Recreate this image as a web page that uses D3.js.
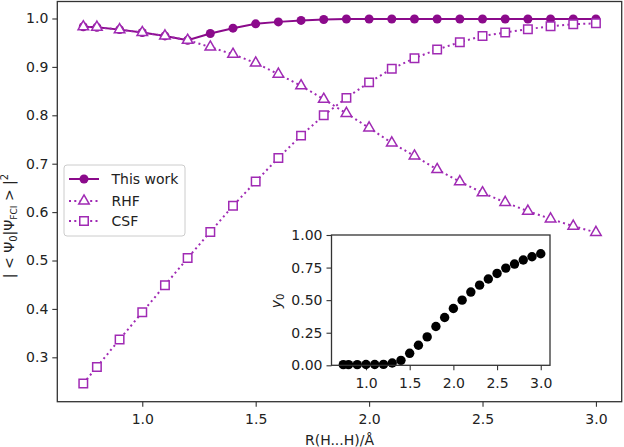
<!DOCTYPE html>
<html><head><meta charset="utf-8">
<script src="https://cdn.jsdelivr.net/npm/d3@7"></script>
<style>
body{margin:0;background:#fff;}
text{font-family:"DejaVu Sans",sans-serif;}
</style></head>
<body>
<svg id="c" width="624" height="447"></svg>
<script>
const xs = [0.74,0.8,0.9,1.0,1.1,1.2,1.3,1.4,1.5,1.6,1.7,1.8,1.9,2.0,2.1,2.2,2.3,2.4,2.5,2.6,2.7,2.8,2.9,3.0];
const thisWork = [0.983,0.982,0.977,0.971,0.964,0.955,0.969,0.980,0.989,0.993,0.996,0.998,0.999,0.999,0.999,0.999,0.999,0.999,0.999,0.999,0.999,0.999,0.999,0.999];
const rhf = [0.983,0.982,0.977,0.971,0.964,0.955,0.941,0.926,0.908,0.885,0.861,0.833,0.804,0.774,0.743,0.716,0.688,0.663,0.640,0.620,0.602,0.586,0.571,0.558];
const csf = [0.246,0.280,0.337,0.393,0.449,0.505,0.559,0.613,0.663,0.712,0.758,0.800,0.836,0.868,0.896,0.918,0.936,0.951,0.964,0.971,0.978,0.984,0.988,0.990];
const y0 = [0.005,0.005,0.005,0.006,0.006,0.007,0.018,0.038,0.092,0.154,0.218,0.298,0.367,0.436,0.500,0.562,0.615,0.662,0.705,0.746,0.777,0.808,0.833,0.856];
const xTicks = [1.0,1.5,2.0,2.5,3.0];
const yTicks = [0.3,0.4,0.5,0.6,0.7,0.8,0.9,1.0];
const insetYTicks = [0.00,0.25,0.50,0.75,1.00];
const legendLabels = ["This work","RHF","CSF"];

const C1 = "#8b0a8b", C2 = "#a02ab4", AX = "#333";
const svg = d3.select("#c");

const x = d3.scaleLinear().domain([0.6254,3.1136]).range([57.3,621.7]);
const y = d3.scaleLinear().domain([0.2083,1.0351]).range([401.7,1.5]);

// axes
const gx = svg.append("g").attr("transform","translate(0,401.7)")
  .call(d3.axisBottom(x).tickValues(xTicks).tickFormat(d3.format(".1f")).tickSize(5).tickPadding(4));
const gy = svg.append("g").attr("transform","translate(57.3,0)")
  .call(d3.axisLeft(y).tickValues(yTicks).tickFormat(d3.format(".1f")).tickSize(5).tickPadding(4));
[gx,gy].forEach(g=>{
  g.select(".domain").remove();
  g.selectAll("line").attr("stroke",AX).attr("stroke-width",1.1);
  g.selectAll("text").attr("font-size",14).attr("fill","#222").attr("font-family","DejaVu Sans");
});
gx.selectAll("text").attr("dy","0.95em");
svg.append("rect").attr("x",57.3).attr("y",1.5).attr("width",621.7-57.3).attr("height",401.7-1.5)
  .attr("fill","none").attr("stroke",AX).attr("stroke-width",1.3);

// x label
svg.append("text").attr("x",339.5).attr("y",445).attr("text-anchor","middle")
  .attr("font-size",14).attr("fill","#222").text("R(H...H)/Å");
// y label
const yl = svg.append("text").attr("transform","translate(14,226) rotate(-90)")
  .attr("text-anchor","middle").attr("font-size",14).attr("fill","#222");
yl.append("tspan").text("| < Ψ");
yl.append("tspan").attr("font-size",10).attr("dy",3).text("0");
yl.append("tspan").attr("dy",-3).text("|Ψ");
yl.append("tspan").attr("font-size",9).attr("dy",3).text("FCI");
yl.append("tspan").attr("dy",-3).text(" > |");
yl.append("tspan").attr("font-size",10).attr("dy",-6).text("2");

const line = d3.line().x(d=>x(d[0])).y(d=>y(d[1]));
const tri = d3.symbol().type(d3.symbolTriangle).size(48);
const sq = d3.symbol().type(d3.symbolSquare).size(72);

// This work
const tw = xs.map((v,i)=>[v,thisWork[i]]);
svg.append("path").attr("d",line(tw)).attr("fill","none").attr("stroke",C1).attr("stroke-width",2);
svg.selectAll(".tw").data(tw).join("circle").attr("cx",d=>x(d[0])).attr("cy",d=>y(d[1])).attr("r",4.5).attr("fill",C1);

// RHF
const rh = xs.map((v,i)=>[v,rhf[i]]);
svg.append("path").attr("d",line(rh)).attr("fill","none").attr("stroke",C2).attr("stroke-width",2).attr("stroke-dasharray","2,3.3");
svg.selectAll(".rh").data(rh).join("path").attr("d",tri).attr("transform",d=>`translate(${x(d[0])},${y(d[1])})`)
  .attr("fill","#fff").attr("stroke",C2).attr("stroke-width",1.5);

// CSF
const cs = xs.map((v,i)=>[v,csf[i]]);
svg.append("path").attr("d",line(cs)).attr("fill","none").attr("stroke",C2).attr("stroke-width",2).attr("stroke-dasharray","2,3.3");
svg.selectAll(".cs").data(cs).join("path").attr("d",sq).attr("transform",d=>`translate(${x(d[0])},${y(d[1])})`)
  .attr("fill","#fff").attr("stroke",C2).attr("stroke-width",1.5);

// legend
svg.append("rect").attr("x",64).attr("y",165).attr("width",121).attr("height",71).attr("rx",3)
  .attr("fill","#fff").attr("fill-opacity",0.8).attr("stroke","#ccc").attr("stroke-width",1);
const ly = [179,201,221];
legendLabels.forEach((lab,i)=>{
  const g = svg.append("g");
  if(i===0){
    g.append("line").attr("x1",69).attr("x2",99).attr("y1",ly[i]).attr("y2",ly[i]).attr("stroke",C1).attr("stroke-width",2);
    g.append("circle").attr("cx",84).attr("cy",ly[i]).attr("r",4.5).attr("fill",C1);
  } else {
    g.append("line").attr("x1",69).attr("x2",99).attr("y1",ly[i]).attr("y2",ly[i]).attr("stroke",C2).attr("stroke-width",2).attr("stroke-dasharray","2,3.3");
    g.append("path").attr("d",i===1?tri:sq).attr("transform",`translate(84,${ly[i]})`).attr("fill","#fff").attr("stroke",C2).attr("stroke-width",1.5);
  }
  g.append("text").attr("x",111.5).attr("y",ly[i]).attr("dy","0.36em").attr("font-size",14).attr("fill","#222").text(lab);
});

// inset
const ix = d3.scaleLinear().domain([0.605,3.106]).range([331.5,550]);
const iy = d3.scaleLinear().domain([0,1]).range([365.3,235]);
svg.append("rect").attr("x",331.5).attr("y",235).attr("width",550-331.5).attr("height",365.3-235).attr("fill","#fff");
const igx = svg.append("g").attr("transform","translate(0,365.3)")
  .call(d3.axisBottom(ix).tickValues(xTicks).tickFormat(d3.format(".1f")).tickSize(5).tickPadding(4));
const igy = svg.append("g").attr("transform","translate(331.5,0)")
  .call(d3.axisLeft(iy).tickValues(insetYTicks).tickFormat(d3.format(".2f")).tickSize(5).tickPadding(4));
[igx,igy].forEach(g=>{
  g.select(".domain").remove();
  g.selectAll("line").attr("stroke",AX).attr("stroke-width",1.1);
  g.selectAll("text").attr("font-size",14).attr("fill","#222").attr("font-family","DejaVu Sans");
});
igx.selectAll("text").attr("dy","0.95em");
const iyl = svg.append("text").attr("transform","translate(281,301) rotate(-90)").attr("text-anchor","middle")
  .attr("font-size",14).attr("fill","#222");
iyl.append("tspan").attr("font-style","italic").text("y");
iyl.append("tspan").attr("font-size",10).attr("dy",3).text("0");
const iData = xs.map((v,i)=>[v,y0[i]]);
svg.selectAll(".ip").data(iData).join("circle").attr("cx",d=>ix(d[0])).attr("cy",d=>iy(d[1])).attr("r",4.7).attr("fill","#000");
svg.append("rect").attr("x",331.5).attr("y",235).attr("width",550-331.5).attr("height",365.3-235)
  .attr("fill","none").attr("stroke",AX).attr("stroke-width",1.3);
</script>
</body></html>
